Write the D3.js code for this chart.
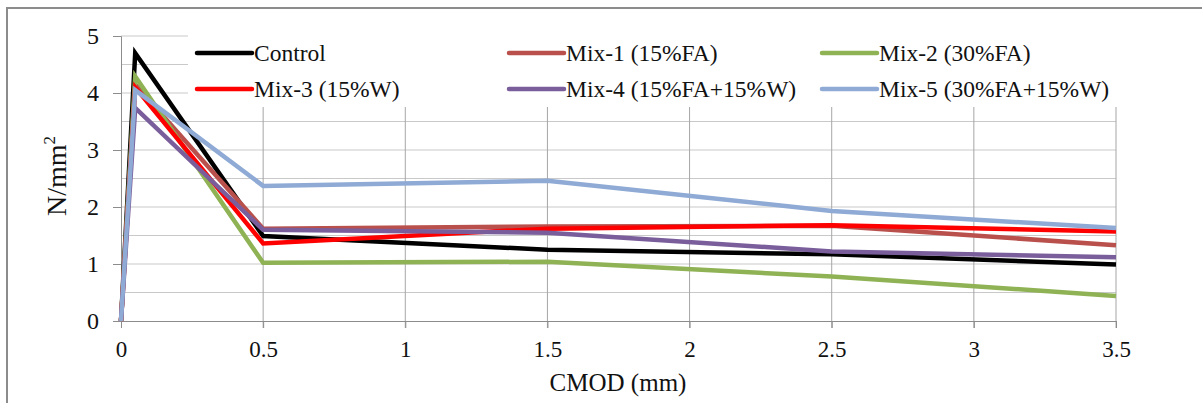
<!DOCTYPE html>
<html>
<head>
<meta charset="utf-8">
<script src="https://cdnjs.cloudflare.com/ajax/libs/d3/7.8.5/d3.min.js"></script>
<style>
  body { margin: 0; background: #fff; }
  svg text { font-family: "Liberation Serif", "Times New Roman", "Liberation Sans", Arial, sans-serif; fill: #111; }
</style>
</head>
<body>
<svg width="1202" height="403"></svg>
<script>
// CMOD values (mm)
var cmod = [0, 0.05, 0.5, 1.5, 2.5, 3.5];

var control = [0, 4.70, 1.49, 1.25, 1.17, 0.99];
var mix1 = [0, 4.15, 1.62, 1.66, 1.67, 1.33];
var mix2 = [0, 4.29, 1.02, 1.04, 0.78, 0.44];
var mix3 = [0, 4.10, 1.36, 1.62, 1.68, 1.57];
var mix4 = [0, 3.74, 1.60, 1.55, 1.22, 1.12];
var mix5 = [0, 4.05, 2.37, 2.46, 1.93, 1.63];

var seriesNames = ["Control", "Mix-1 (15%FA)", "Mix-2 (30%FA)", "Mix-3 (15%W)", "Mix-4 (15%FA+15%W)", "Mix-5 (30%FA+15%W)"];
var seriesValues = [control, mix1, mix2, mix3, mix4, mix5];
var colors = ["#000000", "#b9504c", "#8fb255", "#ff0000", "#7a5e9c", "#8eaad5"];

var xTicks = [0, 0.5, 1, 1.5, 2, 2.5, 3, 3.5];
var yTicks = [0, 1, 2, 3, 4, 5];

var svg = d3.select("svg"),
    margin = {top: 36, left: 121},
    width = 1116 - 121,
    height = 321 - 36,
    g = svg.append("g").attr("transform", "translate(" + margin.left + "," + margin.top + ")");

// outer chart border (top + left only visible)
svg.append("path")
    .attr("d", "M7,403 L7,8 L1202,8")
    .attr("fill", "none")
    .attr("stroke", "#8c8c8c")
    .attr("stroke-width", 2);

var x = d3.scaleLinear().domain([0, 3.5]).range([0, width]);
var y = d3.scaleLinear().domain([0, 5]).range([height, 0]);

// horizontal gridlines every 0.5
g.selectAll(".hgrid")
  .data(d3.range(1, 11).map(function(i) { return i * 0.5; }))
  .enter().append("line")
    .attr("class", "hgrid")
    .attr("x1", 0).attr("x2", width)
    .attr("y1", function(d) { return y(d); })
    .attr("y2", function(d) { return y(d); })
    .attr("stroke", "#c9c9c9")
    .attr("stroke-width", 1);

// vertical gridlines
g.selectAll(".vgrid")
  .data(xTicks.slice(1))
  .enter().append("line")
    .attr("class", "vgrid")
    .attr("x1", function(d) { return x(d); })
    .attr("x2", function(d) { return x(d); })
    .attr("y1", 0).attr("y2", height + 7)
    .attr("stroke", "#a6a6a6")
    .attr("stroke-width", 1);

// axes
g.append("g")
    .attr("transform", "translate(0," + height + ")")
    .call(d3.axisBottom(x).tickValues(xTicks).tickSize(7).tickPadding(13).tickFormat(d3.format("")))
    .call(function(a) {
      a.select(".domain").attr("stroke", "#8c8c8c");
      a.selectAll(".tick line").attr("stroke", "#8c8c8c");
      a.selectAll("text").attr("font-size", 23);
    });

g.append("g")
    .call(d3.axisLeft(y).tickValues(yTicks).tickSize(8).tickPadding(14).tickFormat(d3.format("d")))
    .call(function(a) {
      a.select(".domain").attr("stroke", "#8c8c8c");
      a.selectAll(".tick line").attr("stroke", "#8c8c8c");
      a.selectAll("text").attr("font-size", 24);
    });

// lines
var line = d3.line()
    .x(function(d, i) { return x(cmod[i]); })
    .y(function(d) { return y(d); });

g.selectAll(".series")
  .data(seriesValues)
  .enter().append("path")
    .attr("class", "series")
    .attr("d", line)
    .attr("fill", "none")
    .attr("stroke", function(d, i) { return colors[i]; })
    .attr("stroke-width", 4.5)
    .attr("stroke-linejoin", "miter");

// legend (white box over the top of the grid)
var legend = svg.append("g");
legend.append("rect")
    .attr("x", 188).attr("y", 20)
    .attr("width", 1125 - 188).attr("height", 107 - 20)
    .attr("fill", "#fff");

var legendCols = [197, 509, 822];
var legendRows = [53, 89];

var item = legend.selectAll(".item")
  .data(seriesNames)
  .enter().append("g")
    .attr("class", "item")
    .attr("transform", function(d, i) {
      return "translate(" + legendCols[i % 3] + "," + legendRows[Math.floor(i / 3)] + ")";
    });

item.append("line")
    .attr("x1", 0).attr("x2", 55)
    .attr("stroke", function(d, i) { return colors[i]; })
    .attr("stroke-width", 4.5)
    .attr("stroke-linecap", "round");

item.append("text")
    .attr("x", 57)
    .attr("dy", "0.34em")
    .attr("font-size", 23.5)
    .text(function(d) { return d; });

// axis titles
svg.append("text")
    .attr("x", 618)
    .attr("y", 391)
    .attr("text-anchor", "middle")
    .attr("font-size", 25)
    .text("CMOD (mm)");

var yt = svg.append("text")
    .attr("transform", "translate(66,176) rotate(-90)")
    .attr("text-anchor", "middle")
    .attr("font-size", 28);
yt.append("tspan").text("N/mm");
yt.append("tspan").attr("font-size", 17).attr("dy", -11).text("2");
</script>
</body>
</html>
